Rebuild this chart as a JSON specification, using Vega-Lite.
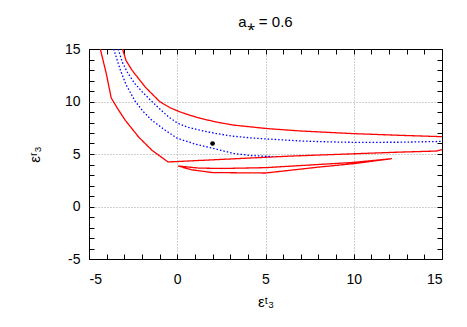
{
  "$schema": "https://vega.github.io/schema/vega-lite/v6.json",
  "width": 353,
  "height": 210,
  "autosize": "none",
  "padding": {"left": 89, "top": 49, "right": 25, "bottom": 68},
  "background": "white",
  "title": {"text": "a⁎ = 0.6", "font": "Liberation Sans", "fontSize": 15, "fontWeight": "normal", "color": "black", "offset": 12, "anchor": "middle"},
  "config": {
    "view": {"stroke": "black", "strokeWidth": 1},
    "axis": {"labelFont": "Liberation Sans", "labelFontSize": 14, "labelColor": "black", "titleFont": "Liberation Sans", "titleFontSize": 15, "titleFontWeight": "normal", "titleColor": "black", "domain": false, "ticks": true, "tickColor": "#000000", "tickWidth": 1, "tickSize": -5, "gridColor": "#a0a0a0", "gridDash": [1, 2], "gridWidth": 1}
  },
  "datasets": {
    "curves": [
      {"s": "A", "i": 0, "x": -4.36, "y": 15},
      {"s": "A", "i": 1, "x": -4.02, "y": 12.65},
      {"s": "A", "i": 2, "x": -3.74, "y": 10.33},
      {"s": "A", "i": 3, "x": -3.35, "y": 9.25},
      {"s": "A", "i": 4, "x": -2.94, "y": 8.2},
      {"s": "A", "i": 5, "x": -2.19, "y": 6.62},
      {"s": "A", "i": 6, "x": -1.43, "y": 5.35},
      {"s": "A", "i": 7, "x": -0.52, "y": 4.24},
      {"s": "A", "i": 8, "x": 6.4, "y": 4.8},
      {"s": "A", "i": 9, "x": 12.6, "y": 5.18},
      {"s": "A", "i": 10, "x": 14.7, "y": 5.28},
      {"s": "A", "i": 11, "x": 15, "y": 5.42},
      {"s": "B", "i": 0, "x": -3.1, "y": 15},
      {"s": "B", "i": 1, "x": -2.9, "y": 13.9},
      {"s": "B", "i": 2, "x": -2.56, "y": 12.97},
      {"s": "B", "i": 3, "x": -1.8, "y": 11.35},
      {"s": "B", "i": 4, "x": -1.0, "y": 10.0},
      {"s": "B", "i": 5, "x": -0.4, "y": 9.4},
      {"s": "B", "i": 6, "x": 0.17, "y": 9.0},
      {"s": "B", "i": 7, "x": 0.7, "y": 8.7},
      {"s": "B", "i": 8, "x": 1.3, "y": 8.4},
      {"s": "B", "i": 9, "x": 2.2, "y": 8.05},
      {"s": "B", "i": 10, "x": 3.2, "y": 7.75},
      {"s": "B", "i": 11, "x": 5.1, "y": 7.42},
      {"s": "B", "i": 12, "x": 7, "y": 7.19},
      {"s": "B", "i": 13, "x": 10, "y": 6.94},
      {"s": "B", "i": 14, "x": 12.6, "y": 6.78},
      {"s": "B", "i": 15, "x": 15, "y": 6.65},
      {"s": "L", "i": 0, "x": 12.17, "y": 4.56},
      {"s": "L", "i": 1, "x": 10, "y": 4.2},
      {"s": "L", "i": 2, "x": 7, "y": 3.9},
      {"s": "L", "i": 3, "x": 5, "y": 3.7},
      {"s": "L", "i": 4, "x": 2.5, "y": 3.62},
      {"s": "L", "i": 5, "x": 1.2, "y": 3.66},
      {"s": "L", "i": 6, "x": 0.05, "y": 3.86},
      {"s": "L", "i": 7, "x": 0.8, "y": 3.5},
      {"s": "L", "i": 8, "x": 2, "y": 3.23},
      {"s": "L", "i": 9, "x": 5, "y": 3.19},
      {"s": "L", "i": 10, "x": 6.4, "y": 3.45},
      {"s": "L", "i": 11, "x": 8, "y": 3.75},
      {"s": "L", "i": 12, "x": 10, "y": 4.08},
      {"s": "L", "i": 13, "x": 12.17, "y": 4.56},
      {"s": "C", "i": 0, "x": -3.35, "y": 15},
      {"s": "C", "i": 1, "x": -3.1, "y": 13.7},
      {"s": "C", "i": 2, "x": -2.8, "y": 12.7},
      {"s": "C", "i": 3, "x": -2.4, "y": 11.7},
      {"s": "C", "i": 4, "x": -2.0, "y": 10.95},
      {"s": "C", "i": 5, "x": -1.5, "y": 10.1},
      {"s": "C", "i": 6, "x": -1.0, "y": 9.3},
      {"s": "C", "i": 7, "x": -0.5, "y": 8.55},
      {"s": "C", "i": 8, "x": 0, "y": 7.95},
      {"s": "C", "i": 9, "x": 0.6, "y": 7.55},
      {"s": "C", "i": 10, "x": 1.3, "y": 7.26},
      {"s": "C", "i": 11, "x": 2.2, "y": 6.95},
      {"s": "C", "i": 12, "x": 3.2, "y": 6.69},
      {"s": "C", "i": 13, "x": 4.2, "y": 6.53},
      {"s": "C", "i": 14, "x": 5.1, "y": 6.43},
      {"s": "C", "i": 15, "x": 7, "y": 6.24},
      {"s": "C", "i": 16, "x": 8.5, "y": 6.16},
      {"s": "C", "i": 17, "x": 10, "y": 6.11},
      {"s": "C", "i": 18, "x": 12.6, "y": 6.12},
      {"s": "C", "i": 19, "x": 15, "y": 6.2},
      {"s": "D", "i": 0, "x": -3.6, "y": 15},
      {"s": "D", "i": 1, "x": -3.22, "y": 12.97},
      {"s": "D", "i": 2, "x": -2.9, "y": 11.6},
      {"s": "D", "i": 3, "x": -2.38, "y": 10.0},
      {"s": "D", "i": 4, "x": -1.9, "y": 9.0},
      {"s": "D", "i": 5, "x": -1.43, "y": 8.2},
      {"s": "D", "i": 6, "x": -0.68, "y": 7.26},
      {"s": "D", "i": 7, "x": 0, "y": 6.5},
      {"s": "D", "i": 8, "x": 1, "y": 5.95},
      {"s": "D", "i": 9, "x": 2, "y": 5.55},
      {"s": "D", "i": 10, "x": 3.2, "y": 5.05},
      {"s": "D", "i": 11, "x": 4.2, "y": 4.85},
      {"s": "D", "i": 12, "x": 5.4, "y": 4.75}
    ],
    "point": [{"x": 2, "y": 6}]
  },
  "layer": [
    {
      "data": {"name": "curves"},
      "mark": {"type": "line", "strokeWidth": 1.3, "clip": true},
      "encoding": {
        "x": {"field": "x", "type": "quantitative", "scale": {"domain": [-5, 15], "nice": false, "zero": false},
          "axis": {"orient": "bottom", "title": "εᵗ₃", "titlePadding": 8,
            "values": [-5,-4,-3,-2,-1,0,1,2,3,4,5,6,7,8,9,10,11,12,13,14,15],
            "labelExpr": "datum.value % 5 === 0 ? '' + datum.value : ''",
            "labelPadding": 18,
            "grid": true,
            "gridOpacity": {"condition": {"test": "datum.value % 5 === 0 && datum.value > -5 && datum.value < 15", "value": 1}, "value": 0}}},
        "y": {"field": "y", "type": "quantitative", "scale": {"domain": [-5, 15], "nice": false, "zero": false},
          "axis": {"orient": "left", "title": "εʳ₃", "titlePadding": 22,
            "values": [-5,-4,-3,-2,-1,0,1,2,3,4,5,6,7,8,9,10,11,12,13,14,15],
            "labelExpr": "datum.value % 5 === 0 ? '' + datum.value : ''",
            "labelPadding": 14,
            "grid": true,
            "gridOpacity": {"condition": {"test": "datum.value % 5 === 0 && datum.value > -5 && datum.value < 15", "value": 1}, "value": 0}}},
        "color": {"field": "s", "type": "nominal", "legend": null,
          "scale": {"domain": ["A", "B", "L", "C", "D"], "range": ["#ff0000", "#ff0000", "#ff0000", "#0000ff", "#0000ff"]}},
        "strokeDash": {"field": "s", "type": "nominal", "legend": null,
          "scale": {"domain": ["A", "B", "L", "C", "D"], "range": [[1, 0], [1, 0], [1, 0], [1.5, 2], [1.5, 2]]}},
        "detail": {"field": "s"},
        "order": {"field": "i", "type": "quantitative"}
      }
    },
    {
      "data": {"name": "point"},
      "mark": {"type": "circle", "color": "black", "opacity": 1, "size": 22},
      "encoding": {
        "x": {"field": "x", "type": "quantitative",
          "axis": {"orient": "top", "title": null, "labels": false, "grid": false,
            "values": [-5,-4,-3,-2,-1,0,1,2,3,4,5,6,7,8,9,10,11,12,13,14,15]}},
        "y": {"field": "y", "type": "quantitative",
          "axis": {"orient": "right", "title": null, "labels": false, "grid": false,
            "values": [-5,-4,-3,-2,-1,0,1,2,3,4,5,6,7,8,9,10,11,12,13,14,15]}}
      }
    }
  ],
  "resolve": {"axis": {"x": "independent", "y": "independent"}}
}
